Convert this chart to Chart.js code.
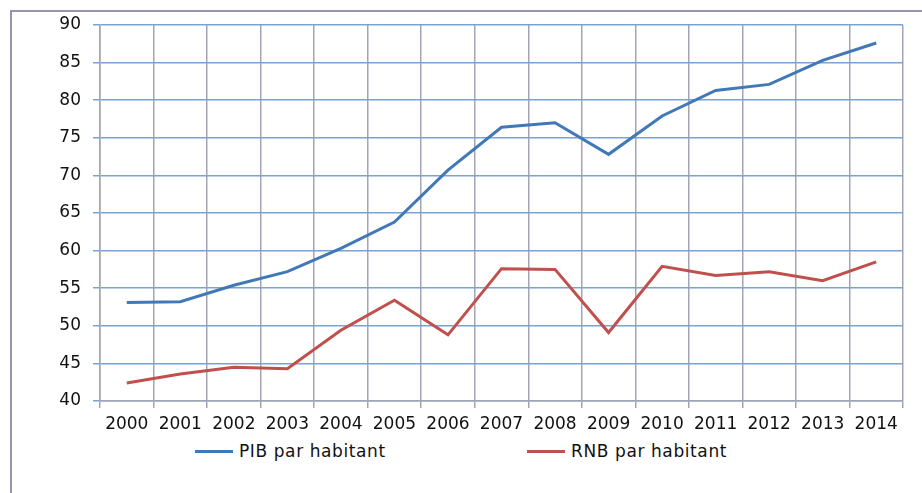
<!DOCTYPE html>
<html>
<head>
<meta charset="utf-8">
<script src="https://cdn.jsdelivr.net/npm/chart.js@4.4.0/dist/chart.umd.min.js"></script>
<style>
    body { margin: 0; background: #fff; font-family: "DejaVu Sans", Verdana, sans-serif; }
    #frame { position: absolute; left: 10px; top: 10px; width: 930px; height: 500px; border-left: 2px solid #9496ab; border-top: 2px solid #9496ab; }
    #wrap { position: absolute; left: 0; top: 0; width: 922px; height: 436px; }
    #legend { position: absolute; left: 0; top: 441px; width: 922px; height: 20px; }
    .item { position: absolute; top: 0; display: flex; align-items: center; font-size: 17px; color: #111; letter-spacing: 0.6px; }
    .item i { display: inline-block; width: 38px; height: 3px; margin-right: 6px; }
</style>
</head>
<body>
<div id="frame"></div>
<div id="wrap"><canvas id="chart"></canvas></div>
<div id="legend"></div>
<script>
const years = ['2000', '2001', '2002', '2003', '2004', '2005', '2006', '2007', '2008', '2009', '2010', '2011', '2012', '2013', '2014'];
const pibName = 'PIB par habitant';
const rnbName = 'RNB par habitant';
const pibValues = [53.1, 53.2, 55.4, 57.2, 60.3, 63.8, 70.7, 76.4, 77.0, 72.8, 77.9, 81.3, 82.1, 85.3, 87.6];
const rnbValues = [42.4, 43.6, 44.5, 44.3, 49.4, 53.4, 48.8, 57.6, 57.5, 49.1, 57.9, 56.7, 57.2, 56.0, 58.5];
const yMin = 40, yMax = 90, yStep = 5;

const series = [
    { label: pibName, data: pibValues, color: '#4178b8', legendX: 195 },
    { label: rnbName, data: rnbValues, color: '#c0504d', legendX: 527 }
];

const tickFont = { family: '"DejaVu Sans", Verdana, sans-serif', size: 17 };

const ctx = document.getElementById('chart').getContext('2d');
const chart = new Chart(ctx, {
    type: 'line',
    data: {
        labels: years,
        datasets: series.map(s => ({
            label: s.label,
            data: s.data,
            borderColor: s.color,
            backgroundColor: s.color,
            borderWidth: 3,
            pointRadius: 0,
            tension: 0,
            fill: false
        }))
    },
    options: {
        responsive: true,
        maintainAspectRatio: false,
        animation: false,
        layout: { padding: { left: 0, right: 19, top: 25, bottom: 0 } },
        plugins: { legend: { display: false }, tooltip: { enabled: false } },
        scales: {
            x: {
                offset: true,
                grid: { offset: true, color: '#a3a4b6', lineWidth: 1.5, tickLength: 7 },
                border: { color: '#a3a4b6', width: 1.5 },
                ticks: { color: '#111', font: tickFont, padding: 6, maxRotation: 0, autoSkip: false },
                afterFit: (scale) => { scale.height = 35; }
            },
            y: {
                min: yMin,
                max: yMax,
                grid: { color: '#7ba3d2', lineWidth: 1.5, tickLength: 7 },
                border: { color: '#a3a4b6', width: 1.5 },
                ticks: { stepSize: yStep, color: '#111', font: tickFont, padding: 12 },
                afterFit: (scale) => { scale.width = 100; }
            }
        }
    }
});

const legend = document.getElementById('legend');
legend.innerHTML = series.map(s =>
    `<div class="item" style="left:${s.legendX}px"><i style="background:${s.color}"></i><span>${s.label}</span></div>`
).join('');
</script>
</body>
</html>
